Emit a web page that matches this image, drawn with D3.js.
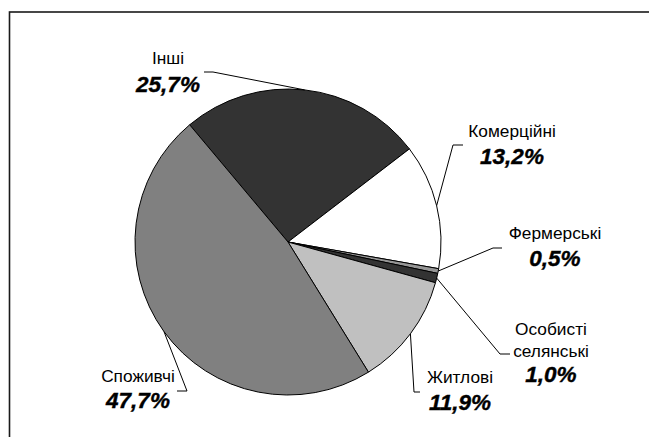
<!DOCTYPE html>
<html>
<head>
<meta charset="utf-8">
<script src="https://cdn.jsdelivr.net/npm/d3@7"></script>
<style>
  html, body { margin: 0; padding: 0; background: #fff; }
  svg { display: block; }
  .name { font-family: "Liberation Sans", Arial, sans-serif; font-size: 17.3px; fill: #000; }
  .pct { font-family: "Liberation Sans", Arial, sans-serif; font-size: 22.5px; font-weight: bold; font-style: italic; fill: #000; stroke: #000; stroke-width: 0.4px; }
</style>
</head>
<body>
<svg id="chart" width="649" height="437"></svg>
<script>
// Structure of credits by purpose, %
const categories = ["Інші", "Комерційні", "Фермерські", "Особисті селянські", "Житлові", "Споживчі"];
const values = [25.7, 13.2, 0.5, 1.0, 11.9, 47.7];
const valueLabels = ["25,7%", "13,2%", "0,5%", "1,0%", "11,9%", "47,7%"];
const colors = ["#333333", "#ffffff", "#969696", "#333333", "#c0c0c0", "#808080"];

// Label block layout: name lines, centre x, first baseline, leader-line anchor
const labelLayout = [
  { lines: ["Інші"], x: 168, y: 64, pctY: 92, anchor: [[204, 72], [213, 72]] },
  { lines: ["Комерційні"], x: 512, y: 137, pctY: 164, anchor: [[463, 145], [453, 145]] },
  { lines: ["Фермерські"], x: 555, y: 239, pctY: 266, anchor: [[502, 248], [493, 248]] },
  { lines: ["Особисті", "селянські"], x: 551, y: 335, pctY: 382, anchor: [[510, 354], [500, 354]] },
  { lines: ["Житлові"], x: 460, y: 383, pctY: 410, anchor: [[420, 392], [414, 392]] },
  { lines: ["Споживчі"], x: 138, y: 382, pctY: 408, anchor: [[177, 391], [187, 391]] }
];

const svg = d3.select("#chart");
const cx = 288, cy = 242, r = 153;
const startDeg = -40;

// Outer frame
svg.append("rect")
  .attr("x", 9.5).attr("y", 12)
  .attr("width", 700).attr("height", 500)
  .attr("fill", "none").attr("stroke", "#1a1a1a").attr("stroke-width", 1.6);

const data = categories.map((c, i) => ({ name: c, value: values[i], i }));

const pie = d3.pie()
  .value(d => d.value)
  .sort(null)
  .startAngle(startDeg * Math.PI / 180)
  .endAngle((startDeg + 360) * Math.PI / 180);

const arcs = pie(data);
const arc = d3.arc().innerRadius(0).outerRadius(r);

const g = svg.append("g").attr("transform", `translate(${cx},${cy})`);

g.selectAll("path.slice")
  .data(arcs)
  .join("path")
  .attr("class", "slice")
  .attr("d", arc)
  .attr("fill", d => colors[d.data.i])
  .attr("stroke", "#000")
  .attr("stroke-width", 1)
  .attr("stroke-linejoin", "round");

// Leader lines from each label to the middle of its slice edge
const leader = d3.line();
arcs.forEach(a => {
  const mid = (a.startAngle + a.endAngle) / 2;
  const px = cx + r * Math.sin(mid);
  const py = cy - r * Math.cos(mid);
  const L = labelLayout[a.data.i];
  svg.append("path")
    .attr("d", leader([L.anchor[0], L.anchor[1], [px, py]]))
    .attr("fill", "none")
    .attr("stroke", "#000")
    .attr("stroke-width", 1);
});

// Labels
labelLayout.forEach((L, i) => {
  L.lines.forEach((t, k) => {
    svg.append("text").attr("class", "name")
      .attr("x", L.x).attr("y", L.y + k * 22)
      .attr("text-anchor", "middle")
      .text(t);
  });
  svg.append("text").attr("class", "pct")
    .attr("x", L.x).attr("y", L.pctY)
    .attr("text-anchor", "middle")
    .text(valueLabels[i]);
});
</script>
</body>
</html>
